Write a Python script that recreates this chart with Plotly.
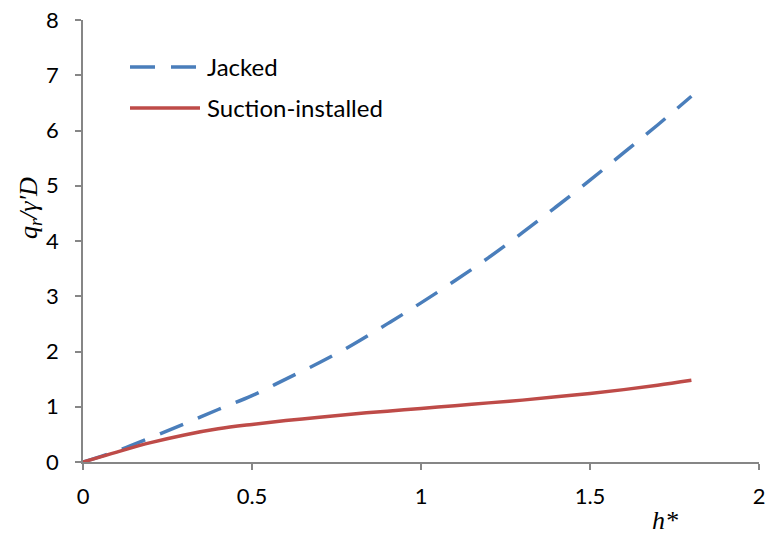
import plotly.graph_objects as go

h_vals = [0, 0.1, 0.2, 0.3, 0.4, 0.5, 0.6, 0.7, 0.8, 0.9, 1.0, 1.1, 1.2, 1.3, 1.4, 1.5, 1.6, 1.7, 1.8]
jacked = [0, 0.2, 0.44, 0.69, 0.95, 1.2, 1.5, 1.8, 2.13, 2.5, 2.88, 3.28, 3.7, 4.15, 4.62, 5.1, 5.6, 6.1, 6.62]
suction = [0, 0.18, 0.35, 0.49, 0.60, 0.68, 0.75, 0.81, 0.87, 0.92, 0.97, 1.02, 1.07, 1.12, 1.18, 1.24, 1.31, 1.39, 1.48]
series_names = ["Jacked", "Suction-installed"]
x_ticks = [0, 0.5, 1, 1.5, 2]
x_tick_text = ["0", "0.5", "1", "1.5", "2"]
y_ticks = [0, 1, 2, 3, 4, 5, 6, 7, 8]

BLUE = "#4A7EBB"
RED = "#BE4B48"
AXIS = "#868686"

fig = go.Figure()
fig.add_trace(go.Scatter(x=h_vals, y=jacked, mode="lines", name=series_names[0],
                         line=dict(color=BLUE, width=3.5, dash="25px,16px", shape="spline"),
                         showlegend=False))
fig.add_trace(go.Scatter(x=h_vals, y=suction, mode="lines", name=series_names[1],
                         line=dict(color=RED, width=3.5, shape="spline"),
                         showlegend=False))

tick_font = dict(family="Lato, Open Sans, sans-serif", size=22, color="#000000")

fig.update_layout(
    width=766, height=538,
    margin=dict(l=83, r=7, t=20, b=76),
    paper_bgcolor="white", plot_bgcolor="white",
    xaxis=dict(range=[0, 2], tickvals=x_ticks, ticktext=x_tick_text,
               showline=True, linecolor=AXIS, linewidth=1.5,
               ticks="outside", ticklen=6, tickcolor=AXIS, tickwidth=1.5,
               showgrid=False, zeroline=False, tickfont=tick_font,
               ticklabelstandoff=8, automargin=False),
    yaxis=dict(range=[0, 8], tickvals=y_ticks,
               showline=True, linecolor=AXIS, linewidth=1.5,
               ticks="outside", ticklen=6, tickcolor=AXIS, tickwidth=1.5,
               showgrid=False, zeroline=False, tickfont=tick_font,
               ticklabelstandoff=12, automargin=False),
)

# custom legend (line samples + labels)
legend_font = dict(family="Lato, Open Sans, sans-serif", size=24, color="#000000")
leg_items = [(series_names[0], BLUE, "25px,16px", 67), (series_names[1], RED, "solid", 108)]
for name, col, dash, ypix in leg_items:
    yp = (462 - ypix) / 442
    x0 = (130 - 83) / 676
    x1 = (200 - 83) / 676
    fig.add_shape(type="line", xref="paper", yref="paper", x0=x0, x1=x1, y0=yp, y1=yp,
                  line=dict(color=col, width=3.5, dash=dash))
    fig.add_annotation(xref="paper", yref="paper", x=(205 - 83) / 676, y=yp,
                       xanchor="left", yanchor="middle", text=name, showarrow=False,
                       font=legend_font)

# axis titles
title_font = dict(family="Liberation Serif, Times New Roman, serif", size=26, color="#000000")
fig.add_annotation(xref="paper", yref="paper", x=(30 - 83) / 676, y=(462 - 208) / 442,
                   xanchor="center", yanchor="middle", textangle=-90, showarrow=False,
                   text="<i>q</i><sub><i>r</i></sub><i>/γ'D</i>", font=title_font)
fig.add_annotation(xref="paper", yref="paper", x=(665 - 83) / 676, y=(462 - 520) / 442,
                   xanchor="center", yanchor="middle", showarrow=False,
                   text="<i>h*</i>", font=title_font)

fig.write_html("out.html")
